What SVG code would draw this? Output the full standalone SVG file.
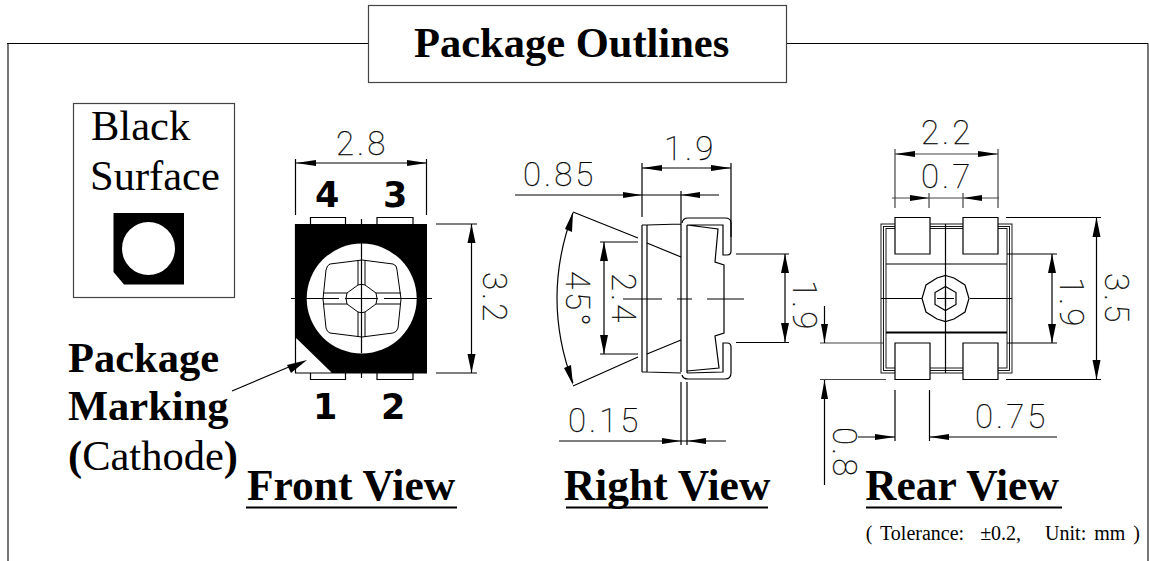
<svg xmlns="http://www.w3.org/2000/svg" width="1149" height="561" viewBox="0 0 1149 561">
<style>
.l{fill:none;stroke:#000;stroke-width:1.2}
.g{fill:none;stroke:#444;stroke-width:1.2}
.a{fill:#000;stroke:none}
.c{font-family:Roboto,"Liberation Sans",sans-serif;font-weight:100;font-size:33px;fill:#000;stroke:#000;stroke-width:.25;letter-spacing:3px}
.s{font-family:"Liberation Serif",serif;fill:#000;font-size:42.500px}
.h{font-size:43.500px;text-anchor:middle}
.b{font-weight:bold}
.d{font-family:"DejaVu Sans",sans-serif;font-weight:bold;font-size:35px;fill:#000}
.t{font-size:20px;white-space:pre;text-anchor:end;word-spacing:3px}
</style>
<rect width="1149" height="561" fill="#fff"/>
<g id="frame">
<path fill="none" stroke="#777" stroke-width="2" d="M8 561V43.500M1148 43.500V561"/>
<path fill="none" stroke="#000" stroke-width="1.200" d="M7 43.500H368M786 43.500H1148"/>
</g>
<g id="title"><rect class="g" x="368.500" y="5.500" width="418" height="77"/><text class="s b" x="414" y="57">Package Outlines</text></g>
<g id="black-surface">
<rect class="g" x="73.500" y="103.500" width="161" height="194"/>
<text class="s" x="91" y="140">Black</text>
<text class="s" x="90" y="190">Surface</text>
<path class="a" d="M113.500 213H184V284.500H124L113.500 272Z"/>
<circle cx="148.500" cy="248.500" r="26.500" fill="#fff"/>
</g>
<g id="package-marking">
<text class="s b" x="68" y="372">Package</text>
<text class="s b" x="68" y="420">Marking</text>
<text class="s" x="68" y="470"><tspan class="b">(</tspan>Cathode<tspan class="b">)</tspan></text>
</g>
<g id="front-view">
<path class="l" d="M295.500 159V215M426.500 159V215M296 163H427"/>
<path class="a" d="M296 163L316 160V166ZM427 163L407 160V166Z"/>
<text class="c" x="336" y="155">2.8</text>
<text class="d" x="315" y="207">4</text><text class="d" x="383" y="207">3</text>
<path class="l" d="M310.500 224V217.500H345.500V224M377 224V217.500H413V224M310.500 373V379.500H345.500V373M377 373V379.500H413V373"/>
<path class="a" d="M296 224H427V373H333L296 337Z"/>
<path class="l" d="M295.500 224V373H427M296 337L333 373"/>
<circle cx="361.700" cy="298.500" r="55" fill="#fff"/>
<path d="M330 264L362 260L393 264Q397 265 397 270L401 299L398 328Q397 332 393 333L362 337L330 333Q327 332 326 328L323 299L326 270Q327 265 330 264Z" fill="none" stroke="#000" stroke-width="1"/>
<path class="l" d="M361.500 219V234M361.500 243V353M361.500 358V378M291 298.500H339M345 298.500H378M384 298.500H432"/>
<path fill="none" stroke="#000" d="M358 260V285L347 293H323M365 260V285L376 293H401M358 337V312L347 304H323M365 337V312L376 304H401"/>
<path fill="none" stroke="#000" d="M358 285Q361.500 283.500 365 285M358 312Q361.500 313.500 365 312M347 293Q345 298.500 347 304M376 293Q378 298.500 376 304"/>
<path class="l" d="M436 224H477M436 373H477M471.500 224V373"/>
<path class="a" d="M471.500 224L467.500 243H475.500ZM471.500 373L467.500 354H475.500Z"/>
<text class="c" transform="translate(483 272) rotate(90)">3.2</text>
<text class="d" x="313" y="419">1</text><text class="d" x="381" y="419">2</text>
<path class="l" d="M232 391L296 364"/>
<path class="a" d="M307 360L287 365L291 373Z"/>
<text class="s b h" x="351" y="500">Front View</text>
<path class="l" d="M246 507.500H457" style="stroke-width:2"/>
</g>
<g id="right-view">
<path class="l" d="M642 163V217M731 163V237M642 168H731M515 195H719M681 191V214"/>
<path class="a" d="M642 168L662 165V171ZM731 168L711 165V171ZM642 195L623 192V198ZM681 195L700 192V198Z"/>
<text class="c" x="664" y="160">1.9</text>
<text class="c" x="523" y="186">0.85</text>
<path class="l" d="M642 225V372M647 225V372M642 225H647L681 224M642 372H647L681 373M681 214V372M687 225V373"/>
<path class="l" d="M682 223Q683 218 688 218H725Q731 218 731 223V251Q731 255 727 255H723V225H687L718 229L715 262L724 265V333L715 336L719 368L687 371M682 375Q683 379 688 379H725Q731 379 731 373V347Q731 343 727 343H723V372L687 373"/>
<path class="l" d="M647 243L681 257M647 354L681 340"/>
<path class="l" d="M573 212L638 238M573 386L638 357M573 213Q541 298 573 383"/>
<path class="l" d="M600 242H638M600 354H638M604 242V354"/>
<path class="a" d="M604 242L600 261H608ZM604 354L600 335H608ZM573 212L565 229L572 232ZM573 385L564 368L571 365Z"/>
<path class="l" d="M623 299H662M677 299H692M707 299H744"/>
<text class="c" transform="translate(566 271) rotate(90)">45°</text>
<text class="c" transform="translate(612 273) rotate(90)">2.4</text>
<path class="l" d="M736 254H789M736 342.500H789M785 254V342"/>
<path class="a" d="M785 254L781 273H789ZM785 342L781 323H789Z"/>
<text class="c" transform="translate(793 280) rotate(90)">1.9</text>
<path class="l" d="M681 382V445M687 382V445M559 441H726"/>
<path class="a" d="M681 441L662 438V444ZM687 441L706 438V444Z"/>
<text class="c" x="568" y="432">0.15</text>
<text class="s b h" x="667" y="500">Right View</text>
<path class="l" d="M566 507.500H768" style="stroke-width:2"/>
</g>
<g id="rear-view">
<path class="g" d="M895 149V208M998 149V208M892 198H999M895 154H998M929 193V208M963 193V208"/>
<path class="a" d="M895 154L915 151V157ZM998 154L978 151V157ZM929 198L910 195V201ZM963 198L982 195V201Z"/>
<text class="c" x="921" y="144">2.2</text>
<text class="c" x="921" y="188">0.7</text>
<g fill="none" stroke="#000" stroke-width=".9"><rect x="881" y="224" width="131" height="149"/><rect x="883.500" y="226.500" width="126" height="144"/><rect x="886" y="228.500" width="121" height="139.500"/></g>
<path class="l" d="M886 264H1007M945.500 224V373M881 298.500H922M970 298.500H1012"/>
<path d="M886 332.500H1007" fill="none" stroke="#000" stroke-width="1.800"/>
<path fill="#fff" stroke="#000" stroke-width="1.200" d="M895 217.500H930V254H895ZM963 217.500H998V254H963ZM895 343H930V379.500H895ZM963 343H998V379.500H963Z"/>
<path class="l" d="M945.500 275.500L954 278L965 285L969 298.500L965 312L954 319L945.500 321.500L937 319L926 312L922 298.500L926 285L937 278ZM945.500 286.500L956 292.500V304.500L945.500 310.500L935 304.500V292.500ZM937 298.500H954M945.500 291V306"/>
<path class="l" d="M1006 217.500H1101M1007 254H1057M1007 343H1057M1006 379.500H1101M1096.500 217.500V379.500M1052 254V343"/>
<path class="a" d="M1096.500 217.500L1092.500 237H1100.500ZM1096.500 379.500L1092.500 360H1100.500ZM1052 254L1048 273H1056ZM1052 343L1048 324H1056Z"/>
<text class="c" transform="translate(1105 273) rotate(90)">3.5</text>
<text class="c" transform="translate(1060 277) rotate(90)">1.9</text>
<path class="g" d="M820 343H883M820 379.500H886"/>
<path class="l" d="M824.500 306V343M824.500 380V485"/>
<path class="a" d="M824.500 343L821 324H828ZM824.500 380L821 399H828Z"/>
<path class="l" d="M895 390V441M929.500 390V441M858 437H895M929 437H1057"/>
<path class="a" d="M895 437L875 434V440ZM929.500 437L949 434V440Z"/>
<text class="c" x="975" y="428">0.75</text>
<text class="c" transform="translate(833 427) rotate(90)">0.8</text>
<text class="s b h" x="962" y="500">Rear View</text>
<path class="l" d="M866 507.500H1062" style="stroke-width:2"/>
</g>
<text id="tolerance" class="s t" x="1140" y="540">( Tolerance:  ±0.2,   Unit: mm )</text>
</svg>
